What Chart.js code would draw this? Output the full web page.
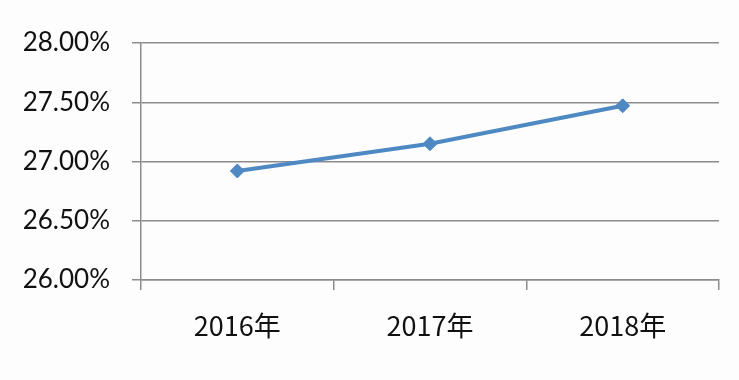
<!DOCTYPE html>
<html>
<head>
<meta charset="utf-8">
<script src="https://cdn.jsdelivr.net/npm/chart.js@4/dist/chart.umd.min.js"></script>
<style>
  html, body { margin: 0; padding: 0; background: #fdfdfd; }
  #wrap { width: 739px; height: 380px; }
</style>
</head>
<body>
<div id="wrap"><canvas id="c" width="739" height="380"></canvas></div>
<script>
// data
const years = ['2016年', '2017年', '2018年'];
const ratio = [26.92, 27.15, 27.47];
const yMin = 26, yMax = 28, yStep = 0.5;

const gridGray = '#8c8c8c';
const lineBlue = '#4f89c3';

new Chart(document.getElementById('c'), {
  type: 'line',
  data: {
    labels: years,
    datasets: [{
      data: ratio,
      borderColor: lineBlue,
      backgroundColor: lineBlue,
      borderWidth: 4,
      pointStyle: 'rectRot',
      pointRadius: 7,
      pointBorderWidth: 1,
      tension: 0,
    }],
  },
  options: {
    responsive: false,
    animation: false,
    layout: { padding: { top: 43, right: 20, left: 0, bottom: 0 } },
    plugins: { legend: { display: false }, tooltip: { enabled: false } },
    scales: {
      x: {
        offset: true,
        grid: { offset: true, drawOnChartArea: false, color: gridGray, tickLength: 10, lineWidth: 1.5 },
        border: { color: gridGray, width: 1.5 },
        ticks: { color: '#111', padding: 20, font: { family: '"Noto Sans CJK SC"', size: 27 } },
        afterFit: s => { s.height = 100; },
      },
      y: {
        min: yMin, max: yMax,
        grid: { color: gridGray, tickLength: 9, lineWidth: 1.5 },
        border: { color: gridGray, width: 1.5 },
        ticks: {
          stepSize: yStep, color: '#111', padding: 22,
          font: { family: 'Lato', size: 26 },
          callback: v => v.toFixed(2) + '%',
        },
        afterFit: s => { s.width = 141; },
      },
    },
  },
});
</script>
</body>
</html>
